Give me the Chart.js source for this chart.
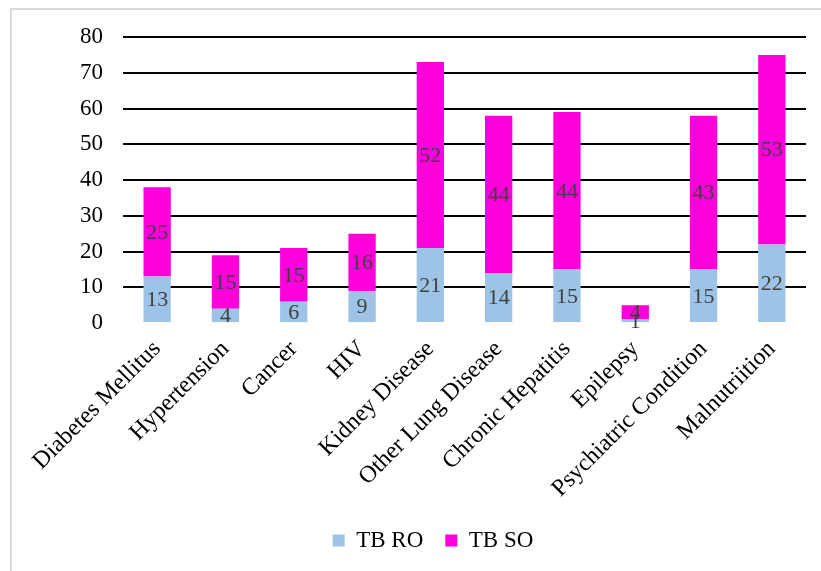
<!DOCTYPE html>
<html>
<head>
<meta charset="utf-8">
<script src="https://cdn.jsdelivr.net/npm/chart.js@4"></script>
<style>
  html, body { margin: 0; padding: 0; background: #fff; }
  #wrap { position: relative; width: 821px; height: 571px; }
  #frame { position: absolute; left: 10px; top: 8px; width: 830px; height: 580px;
           border: 2px solid #d9d9d9; box-sizing: border-box; pointer-events: none; }
</style>
</head>
<body>
<div id="wrap">
  <canvas id="chart" width="821" height="571"></canvas>
  <div id="frame"></div>
</div>
<script>
// 分类与数据
const categories = ['Diabetes Mellitus', 'Hypertension', 'Cancer', 'HIV', 'Kidney Disease',
  'Other Lung Disease', 'Chronic Hepatitis', 'Epilepsy', 'Psychiatric Condition', 'Malnutriition'];
const tbRO = [13, 4, 6, 9, 21, 14, 15, 1, 15, 22];
const tbSO = [25, 15, 15, 16, 52, 44, 44, 4, 43, 53];
const yTicks = [0, 10, 20, 30, 40, 50, 60, 70, 80];

const serif = '"Liberation Serif", "Times New Roman", serif';

// 在每段柱子中间写数值
const barLabels = {
  id: 'barLabels',
  afterDatasetsDraw(chart) {
    const ctx = chart.ctx;
    ctx.save();
    ctx.font = '22px ' + serif;
    ctx.fillStyle = '#404040';
    ctx.textAlign = 'center';
    ctx.textBaseline = 'middle';
    chart.data.datasets.forEach((ds, i) => {
      chart.getDatasetMeta(i).data.forEach((bar, j) => {
        const p = bar.getProps(['x', 'y', 'base'], true);
        ctx.fillText(ds.data[j], p.x, (p.y + p.base) / 2 + 1);
      });
    });
    ctx.restore();
  }
};

new Chart(document.getElementById('chart'), {
  type: 'bar',
  data: {
    labels: categories,
    datasets: [
      { label: 'TB RO', data: tbRO, backgroundColor: '#9dc3e6', barPercentage: 0.4, categoryPercentage: 1 },
      { label: 'TB SO', data: tbSO, backgroundColor: '#ff00dd', barPercentage: 0.4, categoryPercentage: 1 }
    ]
  },
  options: {
    responsive: false,
    animation: false,
    layout: { padding: { top: 37, right: 15, left: 60, bottom: 9 } },
    plugins: {
      legend: {
        position: 'bottom',
        labels: {
          color: '#000',
          font: { family: serif, size: 23 },
          boxWidth: 12, boxHeight: 12,
          padding: 22
        }
      },
      tooltip: { enabled: false }
    },
    scales: {
      x: {
        stacked: true,
        grid: { display: false },
        border: { display: false },
        ticks: {
          color: '#000',
          font: { family: serif, size: 24 },
          maxRotation: 45, minRotation: 45,
          autoSkip: false,
          padding: 4
        }
      },
      y: {
        stacked: true,
        min: yTicks[0],
        max: yTicks[yTicks.length - 1],
        border: { display: false },
        grid: {
          color: ctx => ctx.tick.value === 0 ? 'rgba(0,0,0,0)' : '#000',
          lineWidth: 2,
          drawTicks: false
        },
        afterBuildTicks: axis => { axis.ticks = yTicks.map(v => ({ value: v })); },
        ticks: {
          color: '#000',
          font: { family: serif, size: 23 },
          padding: 20
        }
      }
    }
  },
  plugins: [barLabels]
});
</script>
</body>
</html>
